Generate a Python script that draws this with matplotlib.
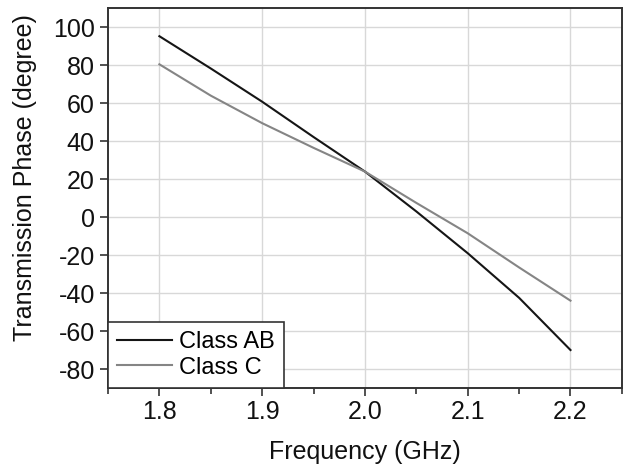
import matplotlib
matplotlib.use("Agg")
import matplotlib.pyplot as plt
from matplotlib.ticker import MultipleLocator

plt.rcParams['font.family'] = ['Liberation Sans', 'DejaVu Sans']
plt.rcParams['axes.unicode_minus'] = False

freq = [1.80, 1.85, 1.90, 1.95, 2.00, 2.05, 2.10, 2.15, 2.20]
class_ab = [95.3, 78.3, 60.8, 42.2, 24.0, 3.0, -19.0, -42.5, -70.0]
class_c = [80.5, 64.0, 49.5, 36.5, 24.0, 7.5, -8.5, -26.5, -44.0]
xticks = [1.8, 1.9, 2.0, 2.1, 2.2]
xticklabels = ["1.8", "1.9", "2.0", "2.1", "2.2"]
yticks = [100, 80, 60, 40, 20, 0, -20, -40, -60, -80]

fig = plt.figure(figsize=(6.25, 4.69), dpi=100)
ax = fig.add_axes([0.1728, 0.1727, 0.8222, 0.8096])

ax.plot(freq, class_ab, color='#151515', lw=1.5, label='Class AB')
ax.plot(freq, class_c, color='#858585', lw=1.5, label='Class C')

ax.set_xlim(1.75, 2.25)
ax.set_ylim(-90, 110)
ax.set_xticks(xticks)
ax.set_xticklabels(xticklabels)
ax.xaxis.set_minor_locator(MultipleLocator(0.05))
ax.set_yticks(yticks)
ax.grid(True, which='major', color='#d8d8d8', lw=1)
ax.set_axisbelow(True)

ax.tick_params(axis='both', which='major', direction='out', length=6, width=1.2,
               labelsize=18, colors='#333333', labelcolor='#111111', pad=3.5)
ax.tick_params(axis='x', which='major', pad=2.5)
ax.tick_params(axis='x', which='minor', direction='out', length=4, width=1.2, colors='#333333')
for s in ax.spines.values():
    s.set_color('#333333')
    s.set_linewidth(1.4)

ax.set_xlabel('Frequency (GHz)', fontsize=18, color='#111111', labelpad=12)
ax.set_ylabel('Transmission Phase (degree)', fontsize=18, color='#111111')
ax.yaxis.set_label_coords(-0.138, 0.553)

leg = ax.legend(loc='lower left', borderaxespad=0, fontsize=17, handlelength=2.3,
                handletextpad=0.3, fancybox=False, framealpha=1, edgecolor='#333333',
                borderpad=0.4, labelspacing=0.15)
leg.get_frame().set_linewidth(1.2)

fig.savefig('out.png', dpi=100)
